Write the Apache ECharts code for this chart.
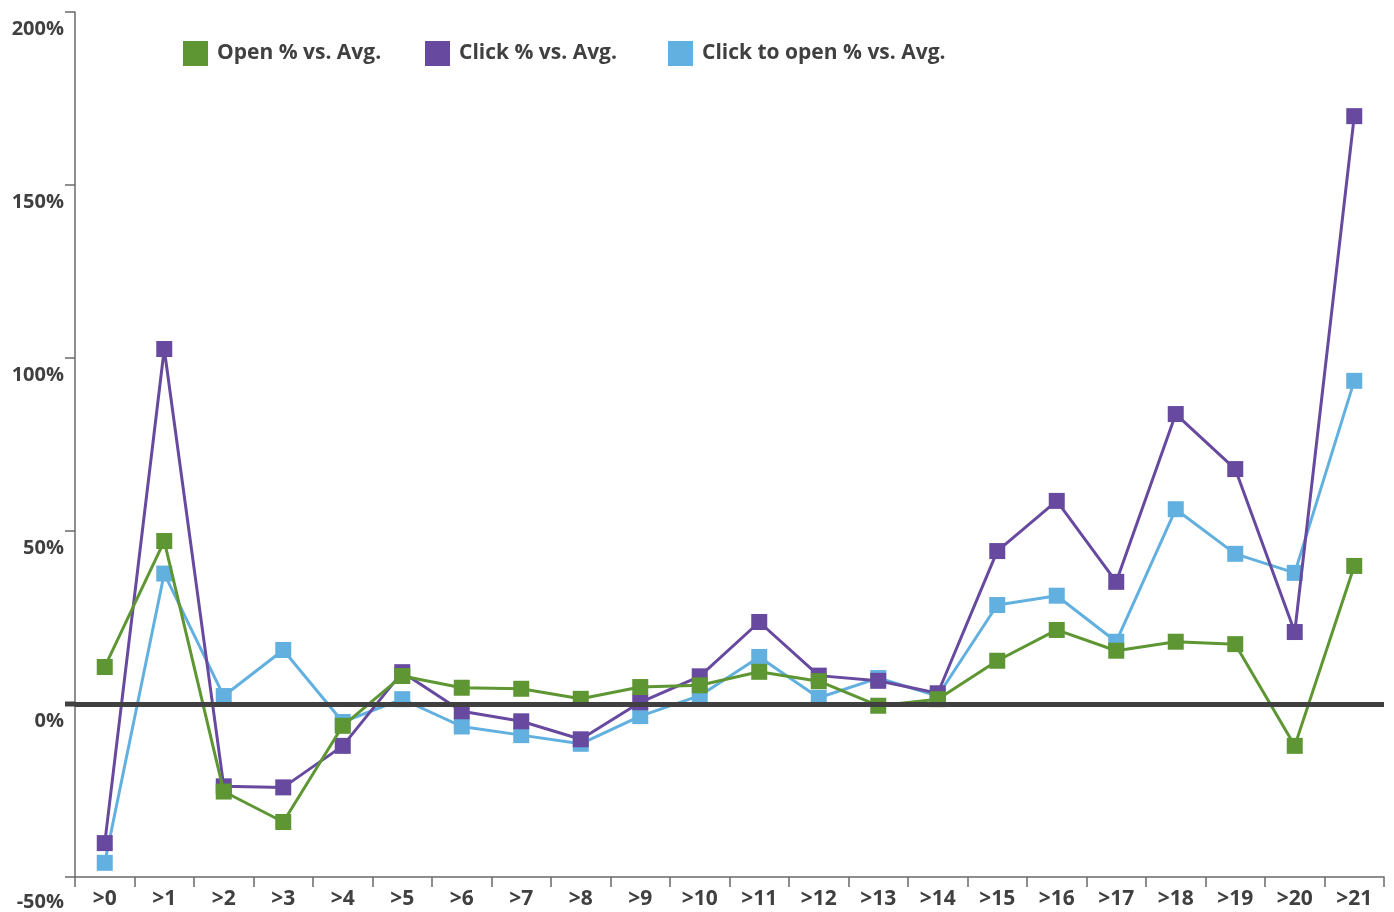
<!DOCTYPE html>
<html>
<head>
<meta charset="utf-8">
<script src="https://cdn.jsdelivr.net/npm/echarts@6/dist/echarts.min.js"></script>
<style>
  html, body { margin: 0; padding: 0; background: #ffffff; }
  #chart { width: 1394px; height: 912px; }
</style>
</head>
<body>
<div id="chart"></div>
<script>
// Age buckets along the x axis
const categories = ['>0', '>1', '>2', '>3', '>4', '>5', '>6', '>7', '>8', '>9', '>10',
  '>11', '>12', '>13', '>14', '>15', '>16', '>17', '>18', '>19', '>20', '>21'];

// Percent difference from the average, per bucket
const openVsAvg = [10.7, 47.1, -25.3, -34.1, -6.3, 8.1, 4.7, 4.4, 1.5, 4.9, 5.4,
  9.3, 6.6, -0.5, 1.4, 12.5, 21.4, 15.4, 18.0, 17.3, -12.1, 39.9];
const clickVsAvg = [-40.2, 102.6, -23.8, -24.1, -12.1, 9.2, -2.1, -5.0, -10.2, 0.5, 8.0,
  23.7, 8.2, 6.7, 3.1, 44.2, 58.7, 35.3, 83.8, 67.9, 20.8, 169.9];
const clickToOpenVsAvg = [-45.9, 37.7, 2.3, 15.6, -5.2, 1.4, -6.5, -9.0, -11.5, -3.5, 2.4,
  13.6, 1.8, 7.5, 2.3, 28.6, 31.3, 18.0, 56.3, 43.4, 37.9, 93.4];

const seriesNames = ['Open % vs. Avg.', 'Click % vs. Avg.', 'Click to open % vs. Avg.'];
const seriesColors = ['#5d9632', '#674a9f', '#62b0e0'];

const TEXT = '#404040';
const AXIS = '#6a6a6a';
const FONT = '"Open Sans", "DejaVu Sans", sans-serif';
const WEIGHT = 700;

function lineSeries(i, data, z) {
  return {
    name: seriesNames[i],
    type: 'line',
    data: data,
    z: z,
    symbol: 'rect',
    symbolSize: 16,
    showAllSymbol: true,
    lineStyle: { color: seriesColors[i], width: 3 },
    itemStyle: { color: seriesColors[i] },
    emphasis: { disabled: true }
  };
}

// one legend block per series so each entry sits at its own x
const legendLefts = [183, 425, 668];
function legendBlock(i) {
  return {
    data: [seriesNames[i]],
    left: legendLefts[i],
    top: 41,
    padding: 0,
    icon: 'rect',
    itemWidth: 25,
    itemHeight: 25,
    selectedMode: false,
    textStyle: { color: TEXT, fontSize: 21, fontWeight: WEIGHT, fontFamily: FONT, padding: [0, 0, 0, 4] }
  };
}

const chart = echarts.init(document.getElementById('chart'), null, { renderer: 'canvas' });

chart.setOption({
  animation: false,
  backgroundColor: '#ffffff',
  textStyle: { fontFamily: FONT },
  grid: { left: 75, right: 10, top: 12, bottom: 35, containLabel: false },
  legend: [legendBlock(0), legendBlock(1), legendBlock(2)],
  xAxis: {
    type: 'category',
    data: categories,
    boundaryGap: true,
    axisLine: { onZero: false, lineStyle: { color: AXIS, width: 1.5 } },
    axisTick: { show: true, length: 10, alignWithLabel: false, lineStyle: { color: AXIS, width: 1.5 } },
    axisLabel: { color: TEXT, fontSize: 21, fontWeight: WEIGHT, fontFamily: FONT, margin: 12, interval: 0 },
    splitLine: { show: false }
  },
  yAxis: {
    type: 'value',
    min: -50,
    max: 200,
    interval: 50,
    axisLine: { show: true, lineStyle: { color: AXIS, width: 1.5 } },
    axisTick: { show: true, length: 10, lineStyle: { color: AXIS, width: 1.5 } },
    axisLabel: {
      color: TEXT, fontSize: 20, fontWeight: WEIGHT, fontFamily: FONT,
      margin: 11, verticalAlign: 'top', padding: [7, 0, 0, 0],
      formatter: function (v) { return v < 0 ? '{low|' + v + '%}' : v + '%'; },
      rich: {
        low: { color: TEXT, fontSize: 20, fontWeight: WEIGHT, fontFamily: FONT, padding: [8, 0, 0, 0] }
      }
    },
    splitLine: { show: false }
  },
  series: [
    // baseline at 0%
    {
      name: 'baseline',
      type: 'line',
      data: [],
      z: 1,
      silent: true,
      markLine: {
        silent: true,
        symbol: ['none', 'none'],
        label: { show: false },
        lineStyle: { color: '#404040', width: 5, type: 'solid' },
        data: [{ yAxis: 0 }]
      }
    },
    lineSeries(0, openVsAvg, 4),
    lineSeries(1, clickVsAvg, 3),
    lineSeries(2, clickToOpenVsAvg, 2)
  ]
});

// carry the baseline out over the tick area left of the y axis
const zeroY = chart.convertToPixel({ yAxisIndex: 0 }, 0);
const axisX = chart.convertToPixel({ xAxisIndex: 0 }, categories[0]) - chart.getModel().getComponent('xAxis').axis.getBandWidth() / 2;
chart.setOption({
  graphic: [{
    type: 'line',
    silent: true,
    z: 1,
    shape: { x1: axisX - 10, y1: zeroY, x2: axisX, y2: zeroY },
    style: { stroke: '#404040', lineWidth: 5 }
  }]
});
</script>
</body>
</html>
